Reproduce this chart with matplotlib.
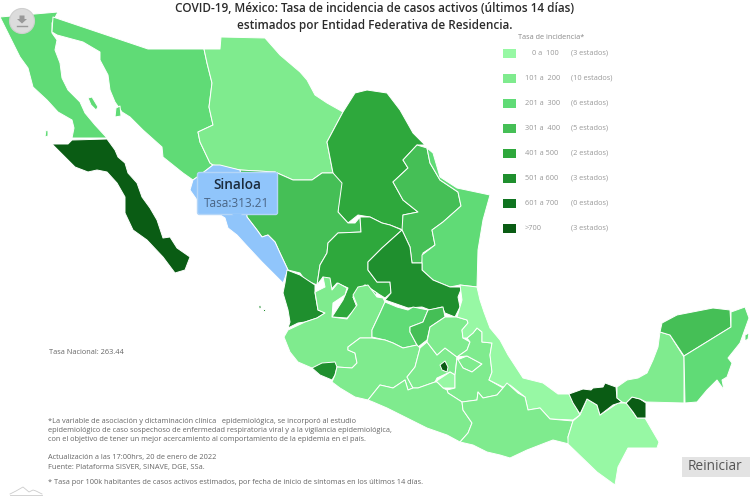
import matplotlib
matplotlib.use("Agg")
import matplotlib.pyplot as plt
from matplotlib.patches import Polygon, FancyBboxPatch, Circle, Rectangle

plt.rcParams['font.family'] = ['Open Sans', 'DejaVu Sans']

TITLE = ["COVID-19, México: Tasa de incidencia de casos activos (últimos 14 días)",
         "estimados por Entidad Federativa de Residencia."]
BIN_EDGES = [100, 200, 300, 400, 500, 600, 700]
BIN_LABELS = ["0 a  100", "101 a  200", "201 a  300", "301 a  400", "401 a 500", "501 a 600", "601 a 700", ">700"]
BIN_COUNTS = ["(3 estados)", "(10 estados)", "(6 estados)", "(5 estados)", "(2 estados)", "(3 estados)", "(0 estados)", "(3 estados)"]
BIN_COLORS = ["#97f8a4", "#7feb8e", "#60db76", "#45bf56", "#2ea83c", "#1f8f2e", "#0f7420", "#0a5c14"]
HIGHLIGHT = "#90c5fb"

RATES = {
    "Baja California": 250, "Baja California Sur": 830, "Sonora": 260, "Chihuahua": 150,
    "Coahuila": 450, "Nuevo León": 360, "Tamaulipas": 270, "Sinaloa": 313.21, "Durango": 350,
    "Zacatecas": 440, "Aguascalientes": 280, "San Luis Potosí": 550, "Nayarit": 560,
    "Jalisco": 170, "Colima": 520, "Guanajuato": 240, "Querétaro": 340, "Michoacán": 130,
    "México": 160, "Ciudad de México": 900, "Morelos": 90, "Hidalgo": 170, "Tlaxcala": 160,
    "Puebla": 140, "Veracruz": 80, "Guerrero": 140, "Oaxaca": 150, "Chiapas": 60,
    "Tabasco": 760, "Campeche": 120, "Yucatán": 350, "Quintana Roo": 260,
}
HOVERED = "Sinaloa"
HOVER_LABEL = "Tasa:313.21"
NATIONAL = "Tasa Nacional: 263.44"

OUTLINES = {
    "Baja California": [[(0,17),(58,12),(52,23),(52,33),(57,40),(55,50),(60,63),(62,78),(68,90),(80,102),(85,113),(95,125),(107,138),(72,138),(74,128),(72,120),(58,112),(47,100),(33,87),(28,68),(20,57),(10,37)],
                        [(88,98),(92,97),(98,107),(96,110),(91,105)], [(46,130),(48,131),(48,136),(45,137)]],
    "Baja California Sur": [[(52,144),(68,144),(72,140),(107,139),(115,150),(118,157),(125,163),(128,173),(137,183),(142,197),(150,208),(157,220),(163,238),(170,237),(177,248),(190,257),(185,270),(175,273),(163,257),(147,240),(133,230),(125,213),(125,197),(117,183),(107,172),(97,170),(88,172),(75,167),(63,155)]],
    "Sonora": [[(53,17),(148,49),(204,49),(207,63),(212,83),(209,107),(213,125),(198,132),(200,142),(210,163),(213,165),(200,175),(193,180),(183,173),(163,157),(162,147),(143,130),(130,117),(122,112),(115,102),(110,90),(108,75),(100,60),(100,52),(83,42),(57,35),(52,32)],
               [(116,108),(120,106),(121,116),(115,117)]],
    "Chihuahua": [[(204,49),(220,49),(221,37),(265,38),(280,55),(300,72),(307,80),(315,95),(327,103),(343,112),(327,142),(333,173),(322,173),(312,180),(293,180),(275,172),(240,170),(213,165),(210,163),(200,142),(198,132),(213,125),(209,107),(212,83),(207,63)]],
    "Coahuila": [[(343,112),(355,93),(367,90),(387,93),(400,110),(413,133),(425,145),(417,145),(403,160),(408,168),(393,182),(403,200),(418,212),(403,215),(403,230),(390,225),(382,223),(370,217),(358,215),(348,223),(338,212),(340,187),(333,173),(327,142)]],
    "Nuevo León": [[(417,145),(427,148),(430,163),(440,180),(458,192),(461,206),(443,222),(432,230),(435,245),(423,253),(422,263),(412,263),(410,247),(402,230),(403,215),(418,212),(403,200),(393,182),(408,168),(403,160)]],
    "Tamaulipas": [[(427,148),(433,153),(440,177),(457,188),(490,195),(483,220),(478,250),(477,287),(460,285),(450,287),(433,280),(422,270),(422,255),(435,245),(432,230),(443,222),(461,206),(458,192),(440,180),(430,163)]],
    "Durango": [[(240,170),(275,172),(293,180),(312,180),(322,173),(333,173),(342,183),(338,212),(348,223),(355,223),(360,217),(361,232),(338,233),(328,243),(327,253),(320,265),(317,285),(305,280),(300,273),(288,270),(280,253),(275,242),(268,235),(262,237),(257,230),(247,217)]],
    "Sinaloa": [[(213,165),(220,165),(240,170),(247,217),(257,230),(262,237),(268,235),(275,242),(280,253),(288,270),(283,283),(273,273),(262,262),(248,247),(237,235),(228,228),(225,218),(197,200),(190,190),(193,180),(200,175)]],
    "Zacatecas": [[(360,217),(370,217),(382,223),(390,225),(402,230),(382,248),(368,262),(368,270),(377,282),(390,282),(391,293),(385,298),(377,293),(365,285),(353,297),(357,307),(347,318),(332,317),(343,300),(348,288),(337,283),(328,293),(323,277),(317,285),(320,265),(327,253),(328,243),(338,233),(361,232)]],
    "Aguascalientes": [[(353,297),(365,285),(377,293),(370,303),(357,307)]],
    "San Luis Potosí": [[(402,230),(410,247),(412,263),(422,263),(422,270),(433,280),(450,287),(462,287),(458,297),(460,307),(455,317),(445,313),(442,307),(430,310),(422,307),(408,308),(385,300),(391,293),(390,282),(377,282),(368,270),(368,262),(382,248)]],
    "Nayarit": [[(287,270),(300,275),(315,285),(315,293),(318,310),(325,313),(317,318),(305,322),(298,323),(288,328),(290,322),(288,310),(283,293),(285,283)],
                [(259,305),(261,306),(261,309),(259,308)], [(263,309),(265,309),(265,311),(263,311)]],
    "Jalisco": [[(284,337),(288,330),(305,322),(317,318),(325,313),(318,310),(315,292),(325,287),(323,277),(330,278),(332,290),(338,283),(347,288),(345,295),(333,303),(332,317),(347,319),(352,312),(357,305),(353,295),(358,287),(368,285),(377,297),(383,298),(385,302),(380,313),(372,330),(372,338),(360,338),(348,347),(348,350),(355,353),(357,363),(352,368),(337,367),(335,375),(332,380),(320,375),(312,368),(298,362),(290,352)]],
    "Colima": [[(312,368),(322,363),(335,362),(337,367),(335,375),(332,380),(320,375)]],
    "Guanajuato": [[(385,302),(397,307),(408,310),(413,307),(428,310),(423,322),(410,327),(410,332),(417,345),(403,348),(393,343),(385,340),(372,337),(372,330),(380,313)]],
    "Querétaro": [[(410,327),(423,322),(428,310),(443,307),(445,317),(430,327),(427,340),(418,347),(417,345),(410,332)]],
    "Michoacán": [[(372,338),(385,340),(393,343),(403,348),(417,345),(420,348),(415,367),(407,377),(413,388),(408,390),(405,380),(393,388),(380,385),(368,400),(355,397),(340,388),(332,382),(335,375),(337,367),(352,368),(357,363),(355,353),(348,350),(348,347),(360,338)]],
    "México": [[(420,348),(427,342),(437,355),(445,348),(457,357),(455,375),(450,372),(437,378),(435,382),(418,388),(413,388),(407,377),(415,367)]],
    "Ciudad de México": [[(440,365),(445,361),(448,367),(447,372),(442,370)]],
    "Morelos": [[(435,382),(450,372),(455,375),(455,388),(443,388),(437,382)]],
    "Hidalgo": [[(445,317),(457,317),(467,320),(468,323),(462,330),(463,338),(470,342),(467,350),(457,357),(445,348),(437,355),(427,342),(430,327)]],
    "Tlaxcala": [[(457,360),(467,356),(482,364),(472,372),(463,368)]],
    "Puebla": [[(477,328),(482,332),(482,342),(492,343),(490,355),(492,372),(489,380),(503,388),(497,395),(483,398),(478,392),(477,400),(462,402),(448,393),(447,390),(455,388),(455,375),(457,358),(463,368),(472,372),(482,364),(467,356),(457,357),(467,350),(470,342),(467,338),(473,333)]],
    "Veracruz": [[(460,285),(477,287),(480,300),(484,312),(490,328),(500,340),(508,355),(523,378),(543,383),(558,394),(569,394),(580,415),(573,420),(550,419),(540,408),(528,410),(525,397),(510,385),(503,387),(489,380),(492,372),(490,355),(492,343),(482,342),(482,332),(477,328),(473,333),(467,338),(463,338),(462,330),(468,323),(467,320),(457,317),(462,300)]],
    "Guerrero": [[(368,400),(380,385),(393,388),(405,380),(408,390),(413,388),(418,388),(435,382),(437,382),(443,388),(447,390),(448,393),(462,402),(463,410),(472,423),(468,433),(460,442),(447,435),(427,428),(407,418),(387,408),(373,402)]],
    "Oaxaca": [[(462,402),(477,400),(478,392),(483,398),(497,395),(503,388),(507,383),(518,393),(525,397),(528,410),(540,408),(550,419),(573,421),(568,437),(569,444),(553,440),(545,443),(527,450),(510,458),(500,455),(487,452),(473,445),(460,442),(468,433),(472,423),(463,410)]],
    "Chiapas": [[(573,421),(580,415),(587,399),(597,405),(600,415),(618,403),(627,403),(635,415),(637,418),(645,418),(659,442),(657,448),(628,448),(618,467),(615,485),(597,472),(568,444),(568,437)]],
    "Tabasco": [[(569,394),(583,389),(591,390),(593,388),(603,387),(605,383),(616,387),(617,398),(622,402),(613,405),(600,415),(597,405),(587,399),(580,414),(573,403)],
                [(626,403),(632,397),(640,399),(646,403),(646,418),(637,418),(633,412)]],
    "Campeche": [[(660,332),(670,335),(684,357),(684,403),(646,402),(640,399),(632,397),(626,403),(622,402),(617,398),(617,387),(627,380),(638,378),(647,373),(653,360),(658,347)]],
    "Yucatán": [[(662,323),(677,315),(713,308),(730,310),(731,327),(684,356),(670,335),(660,332)]],
    "Quintana Roo": [[(731,312),(745,307),(749,318),(740,343),(728,358),(732,363),(727,377),(722,380),(724,390),(717,380),(707,390),(697,402),(685,403),(684,356),(731,327)],
                     [(745,335),(749,333),(748,339),(745,341)]],
}
NOTES = [
    ("*La variable de asociación y dictaminación clínica   epidemiológica, se incorporó al estudio", 421),
    ("epidemiológico de caso sospechoso de enfermedad respiratoria viral y a la vigilancia epidemiológica,", 430),
    ("con el objetivo de tener un mejor acercamiento al comportamiento de la epidemia en el país.", 439),
    ("Actualización a las 17:00hrs, 20 de enero de 2022", 457),
    ("Fuente: Plataforma SISVER, SINAVE, DGE, SSa.", 467),
    ("* Tasa por 100k habitantes de casos activos estimados, por fecha de inicio de síntomas en los últimos 14 días.", 482),
]

def colour(state):
    if state == HOVERED:
        return HIGHLIGHT
    for edge, col in zip(BIN_EDGES, BIN_COLORS):
        if RATES[state] <= edge:
            return col
    return BIN_COLORS[-1]

fig = plt.figure(figsize=(7.5, 4.98), dpi=100)
ax = fig.add_axes([0, 0, 1, 1])
ax.set_xlim(0, 750); ax.set_ylim(498, 0); ax.axis("off")

for state, parts in OUTLINES.items():
    for part in parts:
        ax.add_patch(Polygon(part, closed=True, fc=colour(state), ec="white", lw=0.7, joinstyle="round", zorder=2))

TXT = "#666666"
for i, line in enumerate(TITLE):
    ax.text(375, [8, 25][i], line, ha="center", va="center", fontsize=8.5, fontweight="semibold", color="#2b2b2b", zorder=5)

ax.text(518, 37, "Tasa de incidencia*", fontsize=5.25, color="#888888", va="center")
for i, (lab, cnt, col) in enumerate(zip(BIN_LABELS, BIN_COUNTS, BIN_COLORS)):
    y = 53 + 25 * i
    ax.add_patch(Rectangle((503, y - 4), 13, 8.5, fc=col, ec="none", zorder=3))
    ax.text(559 if i == 0 else 525, y, lab, ha="right" if i == 0 else "left", va="center", fontsize=5.3, color="#999999")
    ax.text(571, y, cnt, va="center", fontsize=5.3, color="#999999")

ax.text(49, 352, NATIONAL, fontsize=5.3, color=TXT, va="center")
for line, y in NOTES:
    ax.text(48, y, line, fontsize=5.3, color=TXT, va="center")

# hover label
ax.add_patch(FancyBboxPatch((197.5, 172.5), 80, 42, boxstyle="round,pad=0,rounding_size=2", fc=HIGHLIGHT, ec="#b5d6f7", lw=1, zorder=6))
ax.add_patch(Polygon([(232, 214), (237, 219), (242, 214)], fc=HIGHLIGHT, ec="none", zorder=6))
ax.text(237, 185, HOVERED, ha="center", va="center", fontsize=9.8, fontweight="semibold", color="#1b2b3c", zorder=7)
ax.text(237, 203, HOVER_LABEL, ha="center", va="center", fontsize=8.5, color="#4a6585", zorder=7)

# download button
ax.add_patch(Circle((22, 21), 12.5, fc="#dcdcdc", ec="#cfcfcf", lw=0.8, zorder=6))
ax.add_patch(Polygon([(19.5, 15.5), (24.5, 15.5), (24.5, 19), (27, 19), (22, 23.5), (17, 19), (19.5, 19)], fc="#999999", ec="none", zorder=7))
ax.plot([17, 27], [26, 26], color="#999999", lw=1, zorder=7)

# reset button
ax.add_patch(Rectangle((682, 457), 68, 20, fc="#e3e3e3", ec="none", zorder=6))
ax.text(715, 466.5, "Reiniciar", ha="center", va="center", fontsize=9.8, color="#555555", zorder=7)

# logo
ax.plot([10, 16, 23, 29, 33, 36, 42], [494, 491, 487, 492, 490, 491, 494], color="#cccccc", lw=0.6)
ax.plot([10, 42], [494.5, 494.5], color="#cccccc", lw=0.6)

fig.savefig("out.png", dpi=100)
